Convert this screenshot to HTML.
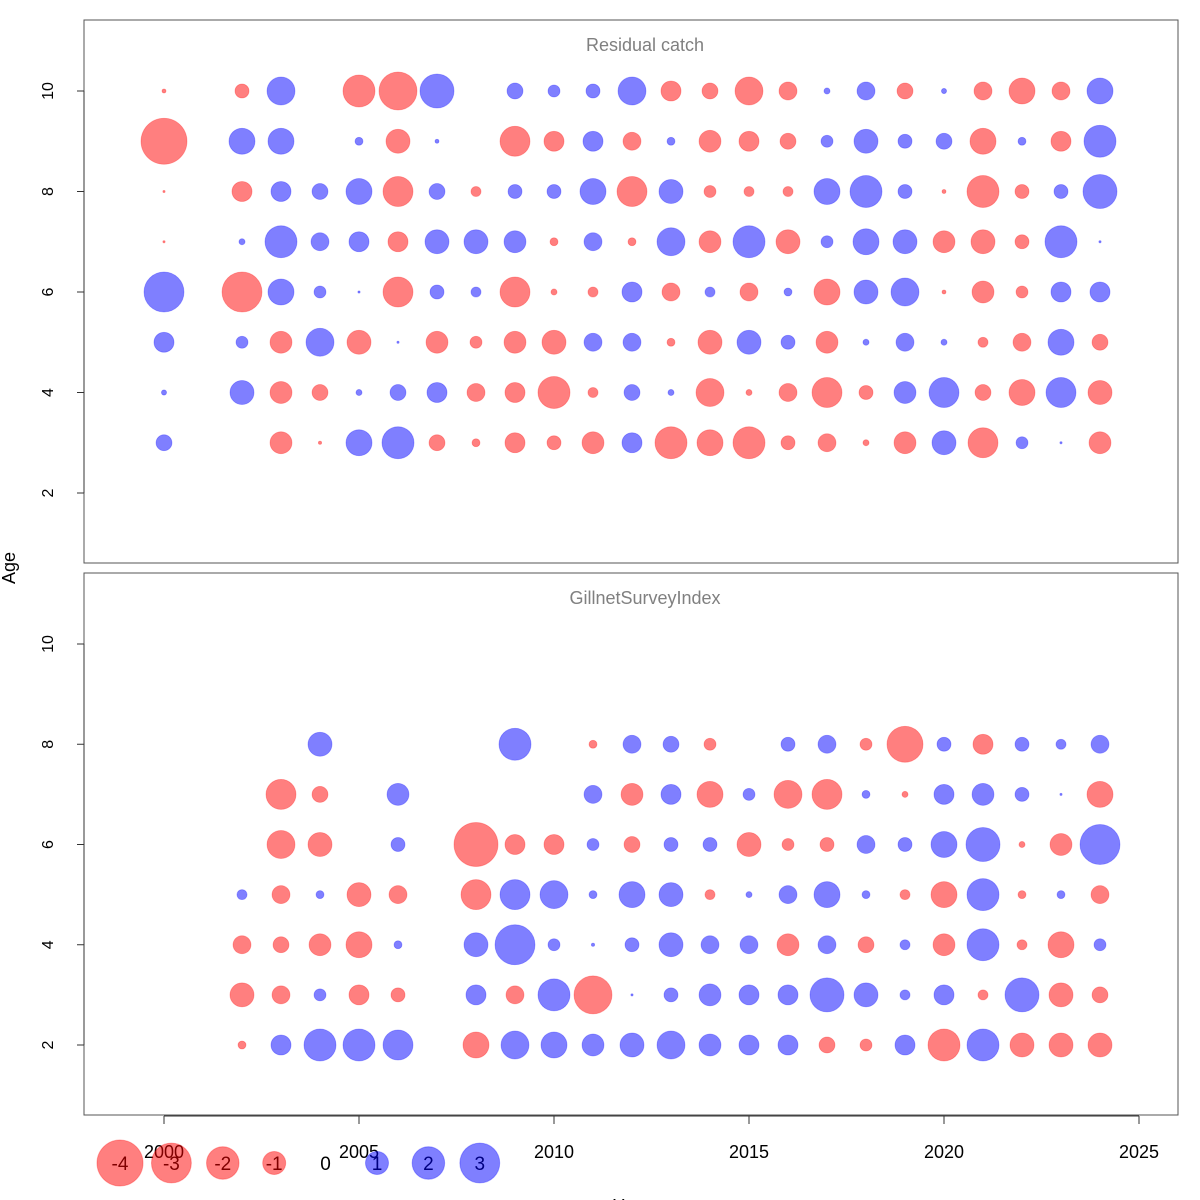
<!DOCTYPE html>
<html><head><meta charset="utf-8">
<style>html,body{margin:0;padding:0;background:#fff}svg{display:block}text{font-family:"Liberation Sans",sans-serif}</style>
</head><body>
<svg id="chart" width="1200" height="1200" viewBox="0 0 1200 1200" xmlns="http://www.w3.org/2000/svg"></svg>
<script>
const years = [2000,2001,2002,2003,2004,2005,2006,2007,2008,2009,2010,2011,2012,2013,2014,2015,2016,2017,2018,2019,2020,2021,2022,2023,2024];
const catchAges = [3,4,5,6,7,8,9,10];
const catchResid = [
[0.48,0.05,0.76,3.02,-0.01,-0.01,-4,-0.03],
null,
[null,1.09,0.27,-3.02,0.07,-0.76,1.28,-0.37],
[-0.91,-0.91,-0.91,1.28,1.94,0.76,1.28,1.48],
[-0.02,-0.48,1.48,0.27,0.61,0.48,null,null],
[1.28,0.07,-1.09,0.01,0.76,1.28,0.12,-1.94],
[1.94,0.48,0.01,-1.7,-0.76,-1.7,-1.09,-2.73],
[-0.48,0.76,-0.91,0.37,1.09,0.48,0.03,2.19],
[-0.12,-0.61,-0.27,0.19,1.09,-0.19,null,null],
[-0.76,-0.76,-0.91,-1.7,0.91,0.37,-1.7,0.48],
[-0.37,-1.94,-1.09,-0.07,-0.12,0.37,-0.76,0.27],
[-0.91,-0.19,0.61,-0.19,0.61,1.28,0.76,0.37],
[0.76,0.48,0.61,0.76,-0.12,-1.7,-0.61,1.48],
[-1.94,0.07,-0.12,-0.61,1.48,1.09,0.12,-0.76],
[-1.28,-1.48,-1.09,0.19,-0.91,-0.27,-0.91,-0.48],
[-1.94,-0.07,1.09,-0.61,1.94,-0.19,-0.76,-1.48],
[-0.37,-0.61,0.37,0.12,-1.09,-0.19,-0.48,-0.61],
[-0.61,-1.7,-0.91,-1.28,0.27,1.28,0.27,0.07],
[-0.07,-0.37,0.07,1.09,1.28,1.94,1.09,0.61],
[-0.91,0.91,0.61,1.48,1.09,0.37,0.37,-0.48],
[1.09,1.7,0.07,-0.03,-0.91,-0.03,0.48,0.05],
[-1.7,-0.48,-0.19,-0.91,-1.09,-1.94,-1.28,-0.61],
[0.27,-1.28,-0.61,-0.27,-0.37,-0.37,0.12,-1.28],
[0.01,1.7,1.28,0.76,1.94,0.37,-0.76,-0.61],
[-0.91,-1.09,-0.48,0.76,0.01,2.19,1.94,1.28]
];
const surveyAges = [2,3,4,5,6,7,8];
const surveyResid = [
null,null,
[-0.12,-1.09,-0.61,0.19,null,null,null],
[0.76,-0.61,-0.48,-0.61,-1.48,-1.7,null],
[1.94,0.27,-0.91,0.12,-1.09,-0.48,1.09],
[1.94,-0.76,-1.28,-1.09,null,null,null],
[1.7,-0.37,0.12,-0.61,0.37,0.91,null],
null,
[-1.28,0.76,1.09,-1.7,-3.66,null,null],
[1.48,-0.61,3.02,1.7,-0.76,null,1.94],
[1.28,1.94,0.27,1.48,-0.76,null,null],
[0.91,-2.73,0.02,0.12,0.27,0.61,-0.12],
[1.09,0.01,0.37,1.28,-0.48,-0.91,0.61],
[1.48,0.37,1.09,1.09,0.37,0.76,0.48],
[0.91,0.91,0.61,-0.19,0.37,-1.28,-0.27],
[0.76,0.76,0.61,0.07,-1.09,0.27,null],
[0.76,0.76,-0.91,0.61,-0.27,-1.48,0.37],
[-0.48,2.19,0.61,1.28,-0.37,-1.7,0.61],
[-0.27,1.09,-0.48,0.12,0.61,0.12,-0.27],
[0.76,0.19,0.19,-0.19,0.37,-0.07,-2.45],
[-1.94,0.76,-0.91,-1.28,1.28,0.76,0.37],
[1.94,-0.19,1.94,1.94,2.19,0.91,-0.76],
[-1.09,2.19,-0.19,-0.12,-0.07,0.37,0.37],
[-1.09,-1.09,-1.28,0.12,-0.91,0.01,0.19],
[-1.09,-0.48,0.27,-0.61,3.02,-1.28,0.61]
];
const xTicks = [2000,2005,2010,2015,2020,2025];
const yTicks = [2,4,6,8,10];
const legendValues = [-4,-3,-2,-1,0,1,2,3];

const NS = "http://www.w3.org/2000/svg";
const svg = document.getElementById('chart');
function mk(tag, attrs, parent){const e=document.createElementNS(NS,tag);for(const k in attrs)e.setAttribute(k,attrs[k]);(parent||svg).appendChild(e);return e;}
const xScale = y => 164 + (y-2000)*39;
const rScale = v => 11.5*Math.sqrt(Math.abs(v));
const panels = [
 {top:20,bottom:563,y2:493,y10:91,title:"Residual catch",ages:catchAges,data:catchResid,name:"residual-catch"},
 {top:573,bottom:1115,y2:1045,y10:644,title:"GillnetSurveyIndex",ages:surveyAges,data:surveyResid,name:"gillnet-survey"}
];
panels.forEach(p=>{
  const yS = a => p.y2 + (a-2)*(p.y10-p.y2)/8;
  const g = mk('g',{});
  
  
  const box = mk('rect',{x:84,y:p.top,width:1094,height:p.bottom-p.top,fill:'none',stroke:'#555','stroke-width':1},g);
  
  
  const t = mk('text',{x:645,y:p.top+31,'text-anchor':'middle','font-size':18,fill:'#808080'},g);
  t.textContent = p.title;
  
  
  yTicks.forEach(v=>{
    const y=yS(v);
    const tk = mk('line',{x1:77,x2:84,y1:y,y2:y,stroke:'#333'},g);
    
    
    const lb = mk('text',{x:53,y:y,'text-anchor':'middle','font-size':16,transform:`rotate(-90 53 ${y})`},g);
    lb.textContent = v;
    
    
  });
  p.data.forEach((row,i)=>{
    if(!row) return;
    row.forEach((v,j)=>{
      if(v===null) return;
      const c = mk('circle',{cx:xScale(years[i]),cy:yS(p.ages[j]),r:rScale(v),
        fill:v<0?'rgba(255,0,0,0.5)':'rgba(0,0,255,0.5)',stroke:v<0?'rgba(255,0,0,0.3)':'rgba(0,0,255,0.3)','stroke-width':0.8},g);
      
      
    });
  });
});
// y axis tick lines vertical segments
panels.forEach(p=>{
  const ax = mk('line',{x1:84,x2:84,y1:p.y2,y2:p.y10,stroke:'#333'});
  
  
});
const xa = mk('line',{x1:xScale(2000),x2:xScale(2025),y1:1116,y2:1116,stroke:'#333'});


xTicks.forEach(v=>{
  const x=xScale(v);
  const tk = mk('line',{x1:x,x2:x,y1:1116,y2:1124,stroke:'#333'});
  
  
  const lb = mk('text',{x:x,y:1158,'text-anchor':'middle','font-size':18});
  lb.textContent=v;
  
  
});
const ylab = mk('text',{x:15,y:568,'text-anchor':'middle','font-size':18,transform:'rotate(-90 15 568)'});
ylab.textContent='Age';


const xlab = mk('text',{x:631,y:1212,'text-anchor':'middle','font-size':18});
xlab.textContent='Year';


legendValues.forEach((v,i)=>{
  const x = 120 + i*51.4, y=1163;
  const g = mk('g',{});
  
  
  if(v!==0){
    mk('circle',{cx:x,cy:y,r:rScale(v),fill:v<0?'rgba(255,0,0,0.5)':'rgba(0,0,255,0.5)',stroke:v<0?'rgba(255,0,0,0.3)':'rgba(0,0,255,0.3)'},g);
  }
  const t = mk('text',{x:x,y:y+7,'text-anchor':'middle','font-size':19,fill:v<0?'#800000':(v>0?'#000080':'#000')},g);
  t.textContent=v;
});
</script>
</body></html>
